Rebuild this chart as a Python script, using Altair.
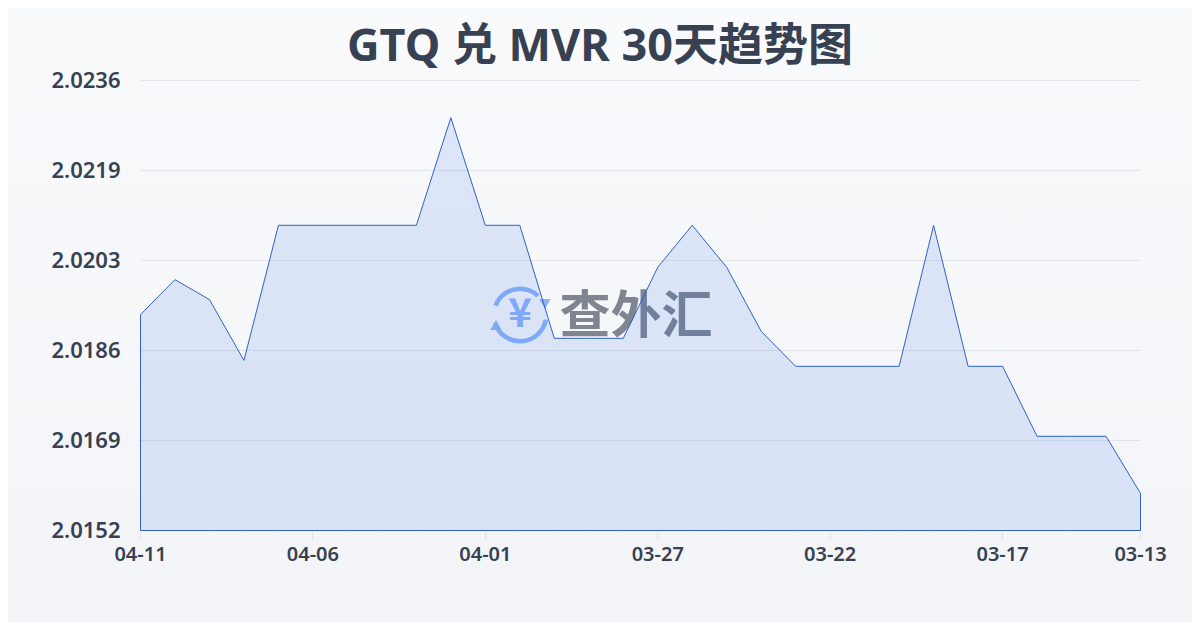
import altair as alt
import pandas as pd

dates = ["04-11","04-10","04-09","04-08","04-07","04-06","04-05","04-04","04-03","04-02",
         "04-01","03-31","03-30","03-29","03-28","03-27","03-26","03-25","03-24","03-23",
         "03-22","03-21","03-20","03-19","03-18","03-17","03-16","03-15","03-14","03-13"]
rates = [2.01925,2.01990,2.01953,2.01840,2.02091,2.02091,2.02091,2.02091,2.02091,2.02291,
         2.02091,2.02091,2.01881,2.01881,2.01881,2.02013,2.02091,2.02013,2.01894,2.01829,
         2.01829,2.01829,2.01829,2.02091,2.01829,2.01829,2.01699,2.01699,2.01699,2.01593]
x_ticks = ["04-11","04-06","04-01","03-27","03-22","03-17","03-13"]
y_ticks = [2.01524,2.016912,2.018584,2.020256,2.021928,2.0236]
y_domain = [2.01524,2.0236]
title = "GTQ 兑 MVR 30天趋势图"
watermark = "查外汇"

CJK = "Noto Sans CJK SC"
LATIN = "Noto Sans, Noto Sans CJK SC"
INK = "#374151"
LOGO = "#8ab4f8"

df = pd.DataFrame({"i": range(len(dates)), "date": dates, "rate": rates, "base": y_domain[0]})
one = alt.Data(values=[{"k": 0}])

bg = alt.Chart(one).mark_rect(
    fill=alt.Gradient(gradient="linear", x1=0, y1=0, x2=0, y2=1,
                      stops=[alt.GradientStop(color="#f9fafc", offset=0),
                             alt.GradientStop(color="#f3f4f7", offset=1)])
).encode(x=alt.value(-132), x2=alt.value(1052), y=alt.value(-72), y2=alt.value(542))

def arc(a, b):
    return alt.Chart(one).mark_arc(theta=a, theta2=b, innerRadius=24, outerRadius=28.5, color=LOGO).encode(
        x=alt.value(380), y=alt.value(235))

logo_arcs = arc(5.08, 6.2832) + arc(0, 0.75) + arc(1.75, 4.4)
logo_heads = (
    alt.Chart(one).mark_point(shape="triangle-down", size=130, filled=True, color=LOGO, opacity=1)
    .encode(x=alt.value(405), y=alt.value(224))
    + alt.Chart(one).mark_point(shape="triangle-up", size=130, filled=True, color=LOGO, opacity=1)
    .encode(x=alt.value(356), y=alt.value(245))
)
logo_yen = alt.Chart(one).mark_text(text="¥", font=CJK, fontSize=40, fontWeight="bold", color=LOGO,
                                    align="center", baseline="middle").encode(x=alt.value(380), y=alt.value(235))
wm = alt.Chart(one).mark_text(text=watermark, font=CJK, fontSize=51, fontWeight="bold", color="#6b7280",
                              opacity=0.85, align="center", baseline="middle").encode(x=alt.value(496), y=alt.value(238))

label_expr = "[" + ",".join(f"'{d}'" for d in dates) + "][datum.value]"
x = alt.X("i:Q", scale=alt.Scale(domain=[0, len(dates) - 1], nice=False, zero=False),
          axis=alt.Axis(values=[dates.index(d) for d in x_ticks], labelExpr=label_expr, title=None, labelAngle=0,
                        labelFont=LATIN, labelFontSize=20, labelFontWeight=600, labelColor=INK, labelPadding=4,
                        tickColor=INK, tickOpacity=0.1, tickSize=10, domain=False, grid=False, zindex=1,
                        labelOverlap=False, labelFlush=False))
y = alt.Y("rate:Q", scale=alt.Scale(domain=y_domain, zero=False, nice=False),
          axis=alt.Axis(values=y_ticks, format=".4f", title=None, labelFont=LATIN, labelFontSize=22,
                        labelFontWeight=600, labelColor=INK, labelPadding=20, ticks=False, domain=False,
                        grid=True, gridColor=INK, gridOpacity=0.1, gridWidth=1, zindex=1))

area = alt.Chart(df).mark_area(
    fill="#2563eb", fillOpacity=0.13, stroke="#2f62c6", strokeWidth=1, interpolate="linear",
    xOffset=0.5, yOffset=0.5, y2Offset=0.5
).encode(x=x, y=y, y2="base:Q")

chart = alt.layer(bg, logo_arcs, logo_heads, logo_yen, wm, area).properties(
    width=1000, height=450,
    padding={"left": 132, "top": 72, "right": 52, "bottom": 92},
    autosize=alt.AutoSizeParams(type="none"),
    title=alt.TitleParams(title, font=LATIN, fontSize=45, fontWeight="bold", color=INK,
                          anchor="middle", dx=-40, dy=62, offset=0),
).configure_view(stroke=None)

chart.save("out.html", embed_options={"renderer": "svg", "actions": False})
